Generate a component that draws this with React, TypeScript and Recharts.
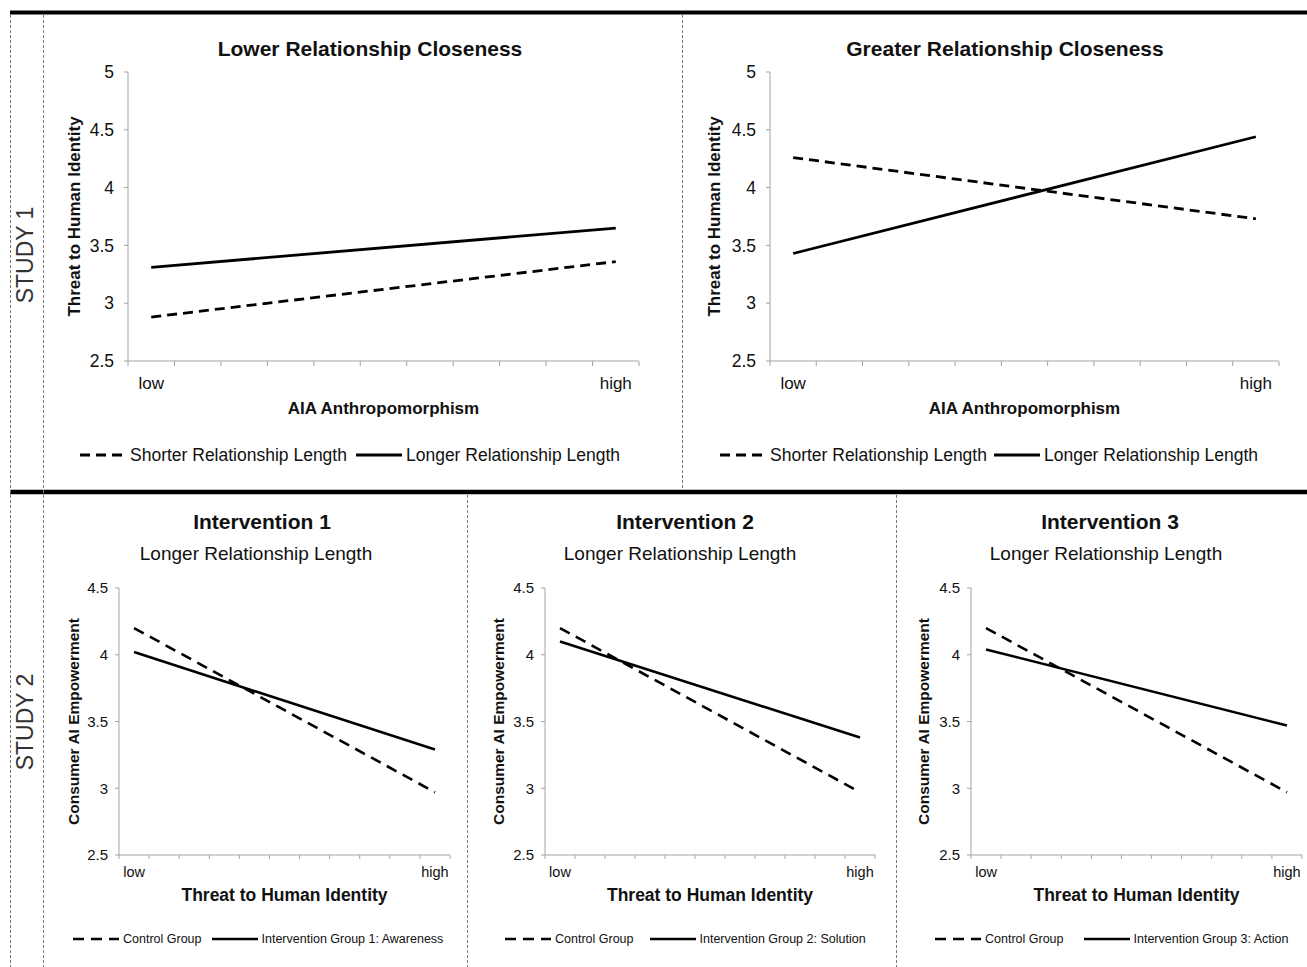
import React from "react";
import { LineChart, Line, XAxis, YAxis } from "recharts";

const FONT = '"Liberation Sans", Arial, Helvetica, sans-serif';
const AXIS_GREY = "#a3a3a3";
const INK = "#111";

// x axis: 11 equal slots, "low" sits in the first one, "high" in the last one
const xLevels = ["low", "high"];
const xLevelSlots = [0, 10];
const xSlotCount = 11;

// Study 1 - threat to human identity
const study1Ticks = [2.5, 3, 3.5, 4, 4.5, 5];
const study1Names = ["Shorter Relationship Length", "Longer Relationship Length"];
const lowerShorter = [2.88, 3.36];
const lowerLonger = [3.31, 3.65];
const greaterShorter = [4.26, 3.73];
const greaterLonger = [3.43, 4.44];

// Study 2 - consumer AI empowerment
const study2Ticks = [2.5, 3, 3.5, 4, 4.5];
const control1 = [4.2, 2.97];
const control2 = [4.2, 2.97];
const control3 = [4.2, 2.97];
const awareness = [4.02, 3.29];
const solution = [4.1, 3.38];
const action = [4.04, 3.47];

type Fonts = { title: number; sub: number; yTick: number; xTick: number; xTitle: number; yTitle: number; legend: number };

type PanelProps = {
  box: { left: number; top: number; width: number; height: number };
  plot: { l: number; r: number; t: number; b: number };
  title: string;
  titleX: number;
  titleY: number;
  subtitle?: string;
  subX?: number;
  subY?: number;
  yTitle: string;
  yGap: number;
  xTitle: string;
  xGap: number;
  tickDy: number;
  tickLen: number;
  yTickMargin: number;
  yTicks: number[];
  names: string[];
  dashed: number[];
  solid: number[];
  legendX: number;
  legendY: number;
  legendGap: number;
  f: Fonts;
  dash: string;
  lw: number;
};

function Panel(p: PanelProps) {
  const yAxisW = 60;
  const xAxisH = 60;
  const margin = {
    top: p.plot.t - p.box.top,
    right: p.box.left + p.box.width - p.plot.r,
    left: p.plot.l - p.box.left - yAxisW,
    bottom: p.box.top + p.box.height - p.plot.b - xAxisH,
  };
  const rows = xLevels.map((lvl, i) => ({
    x: xLevelSlots[i] + 0.5,
    level: lvl,
    dashed: p.dashed[i],
    solid: p.solid[i],
  }));
  const slotEdges = Array.from({ length: xSlotCount + 1 }, (_, i) => i);
  const xTicks = [...slotEdges, ...rows.map((r) => r.x)].sort((a, b) => a - b);
  const midY = (p.plot.t + p.plot.b) / 2 - p.box.top;
  const midX = (p.plot.l + p.plot.r) / 2 - p.box.left;
  const plotBottom = p.plot.b - p.box.top;
  const plotLeft = p.plot.l - p.box.left;

  const renderXTick = (t: any) => {
    const v = t.payload.value;
    const row = rows.find((r) => r.x === v);
    if (row) {
      return (
        <text x={t.x} y={t.y + p.tickDy} textAnchor="middle" dominantBaseline="central"
          fontSize={p.f.xTick} fill={INK} fontFamily={FONT}>
          {row.level}
        </text>
      );
    }
    return <line x1={t.x} x2={t.x} y1={t.y} y2={t.y + p.tickLen} stroke={AXIS_GREY} />;
  };

  const yLabel = () => (
    <text x={plotLeft - p.yGap} y={midY} textAnchor="middle" dominantBaseline="central"
      transform={`rotate(-90, ${plotLeft - p.yGap}, ${midY})`}
      fontSize={p.f.yTitle} fontWeight="bold" fill={INK} fontFamily={FONT}>
      {p.yTitle}
    </text>
  );
  const xLabel = () => (
    <text x={midX} y={plotBottom + p.xGap} textAnchor="middle" dominantBaseline="central"
      fontSize={p.f.xTitle} fontWeight="bold" fill={INK} fontFamily={FONT}>
      {p.xTitle}
    </text>
  );

  return (
    <div style={{ position: "absolute", left: p.box.left, top: p.box.top, width: p.box.width, height: p.box.height }}>
      <LineChart width={p.box.width} height={p.box.height} data={rows} margin={margin}>
        <XAxis
          dataKey="x"
          type="number"
          domain={[0, xSlotCount]}
          ticks={xTicks}
          interval={0}
          tickLine={false}
          tickSize={0}
          tickMargin={0}
          height={xAxisH}
          axisLine={{ stroke: AXIS_GREY }}
          tick={renderXTick}
          label={xLabel}
        />
        <YAxis
          type="number"
          domain={[p.yTicks[0], p.yTicks[p.yTicks.length - 1]]}
          ticks={p.yTicks}
          interval={0}
          width={yAxisW}
          tickSize={4}
          tickMargin={p.yTickMargin}
          axisLine={{ stroke: AXIS_GREY }}
          tickLine={{ stroke: AXIS_GREY }}
          tick={{ fontSize: p.f.yTick, fill: INK, fontFamily: FONT }}
          label={yLabel}
        />
        <Line type="linear" dataKey="dashed" stroke="#000" strokeWidth={p.lw} strokeDasharray={p.dash}
          dot={false} activeDot={false} isAnimationActive={false} />
        <Line type="linear" dataKey="solid" stroke="#000" strokeWidth={p.lw}
          dot={false} activeDot={false} isAnimationActive={false} />
      </LineChart>

      <div style={{
        position: "absolute", left: p.titleX - p.box.left - 300, width: 600, top: p.titleY - p.box.top - 15,
        height: 30, lineHeight: "30px", textAlign: "center", fontFamily: FONT, fontWeight: "bold",
        fontSize: p.f.title, color: INK, whiteSpace: "nowrap",
      }}>{p.title}</div>

      {p.subtitle && (
        <div style={{
          position: "absolute", left: (p.subX as number) - p.box.left - 300, width: 600,
          top: (p.subY as number) - p.box.top - 15, height: 30, lineHeight: "30px", textAlign: "center",
          fontFamily: FONT, fontSize: p.f.sub, color: INK, whiteSpace: "nowrap",
        }}>{p.subtitle}</div>
      )}

      <div style={{
        position: "absolute", left: p.legendX - p.box.left, top: p.legendY - p.box.top - 12, height: 24,
        display: "flex", alignItems: "center", whiteSpace: "nowrap", fontFamily: FONT,
        fontSize: p.f.legend, color: INK,
      }}>
        {p.names.map((n, i) => (
          <div key={n} style={{ display: "flex", alignItems: "center", marginLeft: i ? p.legendGap : 0 }}>
            <svg width={46} height={6} style={{ display: "block" }}>
              <line x1={0} x2={46} y1={3} y2={3} stroke="#000" strokeWidth={p.lw}
                strokeDasharray={i === 0 ? p.dash : undefined} />
            </svg>
            <span style={{ marginLeft: 4 }}>{n}</span>
          </div>
        ))}
      </div>
    </div>
  );
}

const topFonts: Fonts = { title: 21, sub: 19, yTick: 17.5, xTick: 17, xTitle: 17, yTitle: 17, legend: 17.5 };
const bottomFonts: Fonts = { title: 21, sub: 19, yTick: 15, xTick: 14.5, xTitle: 17.5, yTitle: 15.5, legend: 12.5 };

export default function App() {
  const topCommon = {
    yTitle: "Threat to Human Identity",
    xTitle: "AIA Anthropomorphism",
    xGap: 47,
    tickDy: 22,
    tickLen: 5,
    yTickMargin: 10,
    yTicks: study1Ticks,
    names: study1Names,
    legendY: 455,
    f: topFonts,
    dash: "10 6",
    lw: 2.8,
  };
  const bottomCommon = {
    subtitle: "Longer Relationship Length",
    yTitle: "Consumer AI Empowerment",
    xTitle: "Threat to Human Identity",
    xGap: 40,
    tickDy: 17,
    tickLen: 4,
    yTickMargin: 7,
    yTicks: study2Ticks,
    legendY: 939,
    titleY: 522,
    subY: 554,
    f: bottomFonts,
    dash: "11 7",
    lw: 2.6,
  };

  return (
    <div style={{ position: "absolute", left: 0, top: 0, width: 1307, height: 967, background: "#fff", overflow: "hidden" }}>
      <svg width={1307} height={967} style={{ position: "absolute", left: 0, top: 0 }}>
        <line x1={10} x2={1307} y1={12.5} y2={12.5} stroke="#000" strokeWidth={4} />
        <line x1={10} x2={1307} y1={492} y2={492} stroke="#000" strokeWidth={4.5} />
        <g stroke="#777" strokeWidth={1} strokeDasharray="3 2">
          <line x1={10.5} x2={10.5} y1={15} y2={967} />
          <line x1={43.5} x2={43.5} y1={15} y2={967} />
          <line x1={682.5} x2={682.5} y1={15} y2={489} />
          <line x1={467.5} x2={467.5} y1={495} y2={967} />
          <line x1={896.5} x2={896.5} y1={495} y2={967} />
        </g>
        <text x={25} y={255} transform="rotate(-90, 25, 255)" textAnchor="middle" dominantBaseline="central"
          fontSize={23} fill="#333" fontFamily={FONT}>STUDY 1</text>
        <text x={25} y={722} transform="rotate(-90, 25, 722)" textAnchor="middle" dominantBaseline="central"
          fontSize={23} fill="#333" fontFamily={FONT}>STUDY 2</text>
      </svg>

      <Panel {...topCommon}
        box={{ left: 44, top: 14, width: 636, height: 475 }}
        plot={{ l: 128, r: 639, t: 72, b: 361 }}
        title="Lower Relationship Closeness" titleX={370} titleY={49}
        yGap={54}
        dashed={lowerShorter} solid={lowerLonger}
        legendX={80} legendGap={9} />

      <Panel {...topCommon}
        box={{ left: 683, top: 14, width: 624, height: 475 }}
        plot={{ l: 770, r: 1279, t: 72, b: 361 }}
        title="Greater Relationship Closeness" titleX={1005} titleY={49}
        yGap={56}
        dashed={greaterShorter} solid={greaterLonger}
        legendX={720} legendGap={7} />

      <Panel {...bottomCommon}
        box={{ left: 44, top: 494, width: 422, height: 473 }}
        plot={{ l: 119, r: 450, t: 588, b: 855 }}
        title="Intervention 1" titleX={262} subX={256}
        yGap={46}
        names={["Control Group", "Intervention Group 1: Awareness"]}
        dashed={control1} solid={awareness}
        legendX={73} legendGap={10} />

      <Panel {...bottomCommon}
        box={{ left: 468, top: 494, width: 427, height: 473 }}
        plot={{ l: 545, r: 875, t: 588, b: 855 }}
        title="Intervention 2" titleX={685} subX={680}
        yGap={47}
        names={["Control Group", "Intervention Group 2: Solution"]}
        dashed={control2} solid={solution}
        legendX={505} legendGap={16} />

      <Panel {...bottomCommon}
        box={{ left: 897, top: 494, width: 410, height: 473 }}
        plot={{ l: 971, r: 1302, t: 588, b: 855 }}
        title="Intervention 3" titleX={1110} subX={1106}
        yGap={48}
        names={["Control Group", "Intervention Group 3: Action"]}
        dashed={control3} solid={action}
        legendX={935} legendGap={20} />
    </div>
  );
}
